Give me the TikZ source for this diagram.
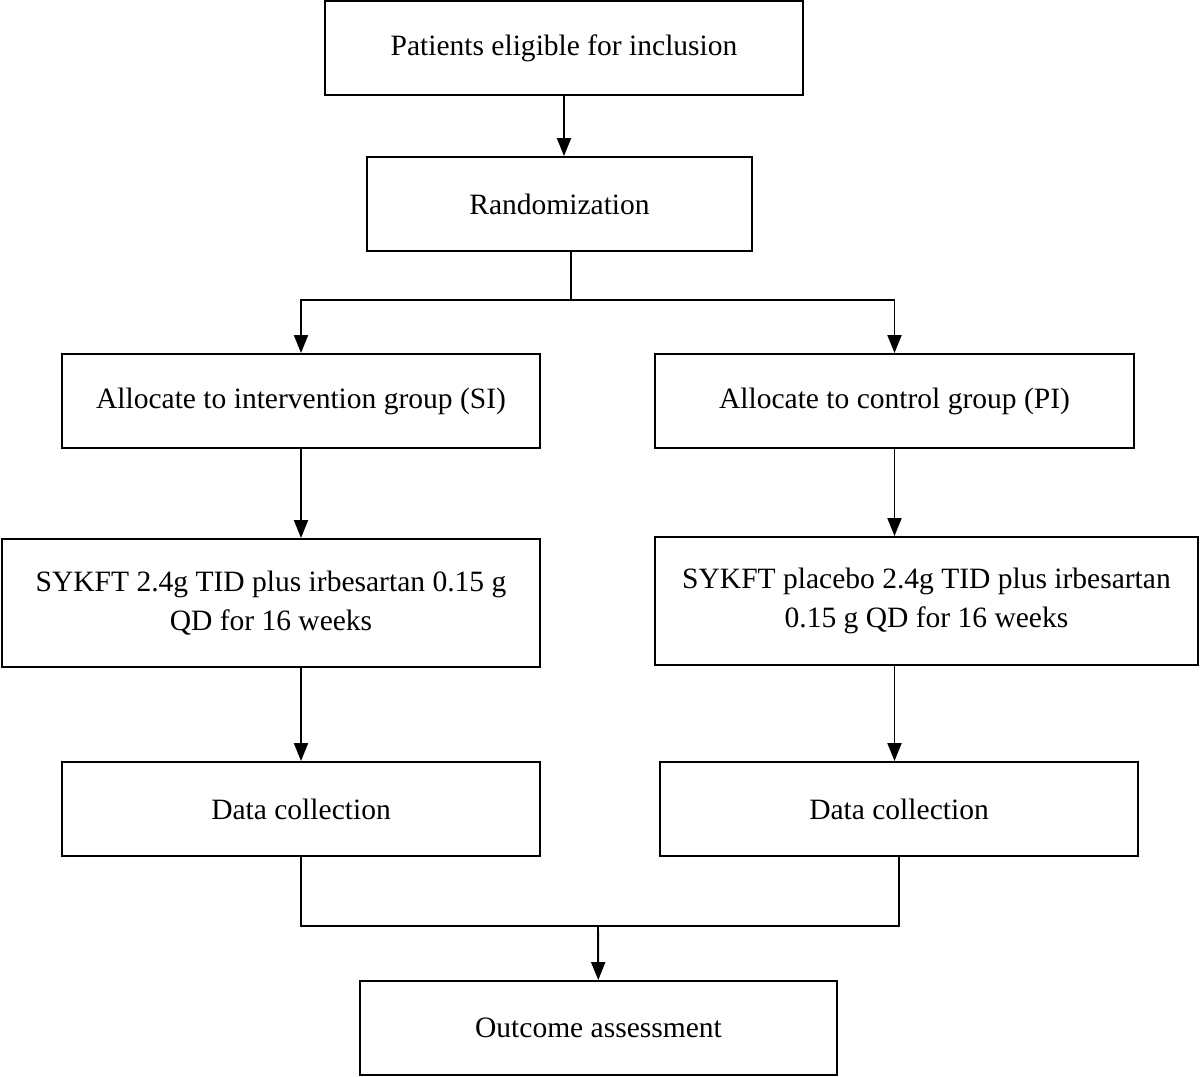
\documentclass[tikz,border=0pt]{standalone}
\usepackage{fontspec}
\setmainfont{Liberation Serif}
\usetikzlibrary{arrows.meta}
\usetikzlibrary{calc}

\begin{document}
\begin{tikzpicture}[x=0.02cm,y=-0.02cm]%%flowchart
        \tikzstyle{block} = [rectangle, draw, line width=1.1pt, minimum height=1.88cm, align=center, inner sep=0pt, font=\fontsize{16.8}{22}\selectfont]
        \tikzstyle{arr} = [line width=1.1pt, -{Triangle[length=0.36cm,width=0.28cm]}]
        \useasboundingbox (0,0) rectangle (1200,1077);
        \node [block, minimum width=9.56cm](pat) at (564,48) {Patients eligible for inclusion};
        \node [block, minimum width=7.7cm](rand) at (559.5,204) {Randomization};
        \node [block, minimum width=9.56cm](grpL) at (301,401) {Allocate to intervention group (SI)};
        \node [block, minimum width=9.58cm](grpR) at (894.5,401) {Allocate to control group (PI)};
        \node [block, minimum width=10.76cm, minimum height=2.56cm](trtL) at (271,603) {SYKFT 2.4g TID plus irbesartan 0.15 g\\QD for 16 weeks};
        \node [block, minimum width=10.86cm, minimum height=2.56cm](trtR) at (926.5,601) {SYKFT placebo 2.4g TID plus irbesartan\\0.15 g QD for 16 weeks};
        \node [block, minimum width=9.56cm](dataL) at (301,809) {Data collection};
        \node [block, minimum width=9.56cm](dataR) at (899,809) {Data collection};
        \node [block, minimum width=9.54cm](outcome) at (598.5,1028) {Outcome assessment};
        \coordinate (split) at (571,300);
        \coordinate (merge) at (598,926);
        \draw [arr](pat) -- (pat |- rand.north);
        \draw [line width=1.1pt](rand.south -| split) -- (split);
        \foreach \s in {L,R}
        {
                \draw [arr](split) -| (grp\s.north);
                \draw [arr](grp\s) -- (grp\s |- trt\s.north);
                \draw [arr](trt\s.south -| grp\s) -- (grp\s |- data\s.north);
        }
        \draw [line width=1.1pt](dataL) |- (merge) -| (dataR);
        \draw [arr](merge) -- (outcome);
\end{tikzpicture}
\end{document}
